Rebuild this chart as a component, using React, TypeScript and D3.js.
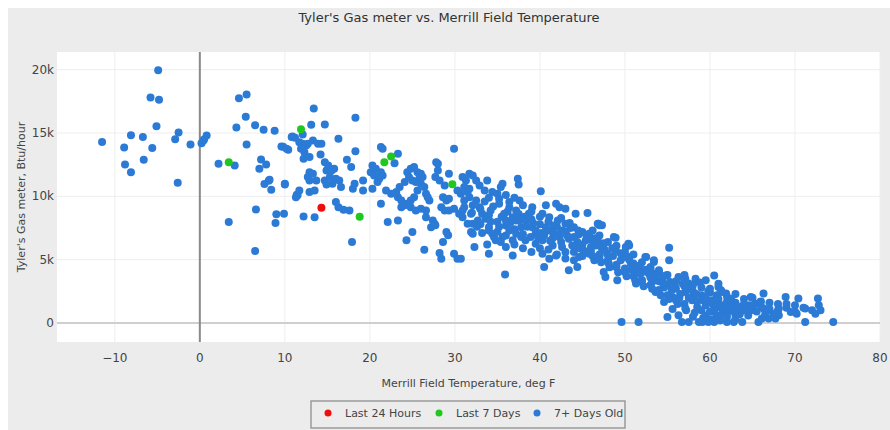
import * as d3 from "d3";

// [temperature degF, gas use Btu/hour]
const lastDay: [number, number][] = [[14.3, 9100]];

const lastWeek: [number, number][] = [
  [3.4, 12700], [11.9, 15300], [21.7, 12700], [22.5, 13150], [18.8, 8400], [29.7, 10950],
];

const older: [number, number][] = [
  [-11.5, 14300], [-8.9, 13850], [-8.1, 14830], [-8.8, 12520], [-8.1, 11910], [-6.7, 14680],
  [-6.6, 12890], [-5.6, 13810], [-5.8, 17810], [-4.8, 17630], [-4.9, 19960], [-5.1, 15540],
  [-2.9, 14520], [-2.5, 15050], [-2.6, 11080], [-1.1, 14100], [0.2, 14200], [0.5, 14500],
  [0.8, 14800], [0.4, 14400], [2.2, 12580], [4.1, 12440], [4.3, 15440], [4.6, 17750],
  [5.5, 18040], [5.4, 16280], [5.5, 14100], [6.5, 15620], [7.2, 12920], [7.0, 12180],
  [7.8, 12520], [7.5, 15260], [8.8, 15180], [7.6, 10970], [8.1, 11240], [8.4, 10530],
  [10.0, 10940], [9.8, 13920], [10.2, 13760], [10.8, 14680], [11.4, 10130], [6.6, 8970],
  [3.4, 7970], [9.0, 8580], [9.9, 8630], [8.9, 7890], [6.5, 5680], [8.2, 11310],
  [10.0, 11000], [10.9, 14730], [11.2, 14630], [9.6, 13940], [10.4, 13680], [12.1, 14890],
  [13.4, 16940], [13.1, 15650], [14.7, 15680], [11.7, 14280], [12.1, 14150], [12.5, 14020],
  [11.9, 13760], [12.3, 13490], [12.7, 14150], [13.3, 14420], [13.9, 14150], [14.3, 14150],
  [12.2, 12970], [12.9, 13100], [14.2, 13310], [14.7, 12700], [15.1, 12440], [14.9, 12050],
  [15.5, 12050], [15.3, 11520], [15.8, 12180], [16.0, 11390], [15.6, 11000], [14.7, 11260],
  [14.9, 10940], [12.9, 11910], [13.3, 11790], [12.7, 11520], [12.9, 11260], [13.7, 11260],
  [13.5, 10470], [12.9, 10340], [11.7, 10470], [11.5, 10080], [11.3, 9940], [12.2, 8420],
  [13.5, 8360], [16.0, 9550], [16.3, 9150], [16.3, 14550], [18.3, 16200], [18.3, 13570],
  [17.3, 12890], [17.8, 12310], [16.4, 11260], [16.6, 10730], [18.2, 11000], [18.0, 10600],
  [19.2, 11260], [19.2, 10470], [20.3, 10600], [16.9, 8950], [17.6, 8890], [17.9, 6390],
  [21.3, 13890], [21.5, 13760], [23.3, 13360], [22.9, 12620], [20.3, 12440], [20.7, 12180],
  [20.1, 11910], [20.5, 11640], [21.3, 11910], [21.1, 11390], [20.9, 11130], [21.5, 11640],
  [21.3, 9420], [21.9, 10470], [22.5, 10210], [23.1, 10340], [23.5, 10730], [24.1, 11130],
  [23.3, 9940], [23.7, 9680], [24.1, 9290], [23.7, 9150], [22.1, 7970], [23.3, 8100],
  [24.3, 6530], [25.0, 7180], [26.4, 5790], [24.4, 11910], [24.8, 12180], [25.2, 12310],
  [25.6, 11910], [26.0, 11790], [24.6, 11520], [25.0, 11260], [25.4, 11130], [25.8, 11390],
  [26.2, 11520], [26.0, 11000], [26.4, 10730], [26.6, 10210], [26.8, 9940], [27.0, 9680],
  [25.6, 10470], [25.2, 9940], [24.8, 9680], [24.4, 9420], [24.8, 9150], [25.4, 8890],
  [26.0, 9030], [26.6, 8890], [26.6, 8360], [27.4, 8100], [27.7, 7710], [27.2, 7570],
  [28.0, 12580], [28.0, 12050], [27.7, 11520], [28.2, 11260], [29.3, 11790], [28.8, 10860],
  [29.9, 13760], [28.6, 9940], [29.0, 9680], [29.3, 9810], [28.4, 9150], [28.8, 8890],
  [29.3, 8890], [29.9, 9030], [30.5, 8630], [30.9, 8890], [31.1, 9680], [30.7, 10210],
  [30.3, 10470], [27.6, 7840], [28.2, 5520], [28.4, 5080], [28.6, 6390], [29.0, 7180],
  [29.2, 6920], [29.9, 5470], [30.3, 5080], [31.1, 10730], [31.3, 11260], [31.5, 10340],
  [27.8, 12700], [32.1, 11650], [31.7, 9940], [32.1, 9290], [31.9, 8630], [32.1, 7840],
  [32.1, 7050], [32.3, 6000], [33.8, 11260], [34.4, 10340], [33.5, 10470], [35.6, 11000],
  [35.4, 10730], [37.4, 11390], [37.5, 10940], [40.1, 10410], [31.7, 10600], [31.1, 9150],
  [30.9, 8360], [31.5, 7840], [31.9, 7180], [30.7, 5080], [32.5, 9680], [32.9, 9150],
  [33.2, 8630], [32.7, 8100], [33.6, 8240], [34.0, 7570], [34.4, 7050], [34.8, 6530],
  [34.2, 8890], [35.2, 9420], [35.8, 8630], [36.0, 8100], [36.4, 9150], [36.8, 8360],
  [37.2, 8890], [37.6, 8100], [37.8, 7570], [38.3, 8100], [38.7, 8630], [39.1, 7570],
  [39.5, 7050], [36.4, 7310], [35.6, 6790], [36.0, 6000], [36.8, 6530], [37.2, 7050],
  [38.3, 6530], [38.9, 6790], [34.6, 6790], [34.0, 5470], [36.8, 5340], [39.5, 6260],
  [35.9, 3840], [40.5, 4420], [43.4, 4160], [44.4, 4420], [40.3, 5470], [41.1, 5080],
  [41.9, 5340], [43.0, 5600], [44.0, 4950], [44.6, 5210], [40.7, 9290], [41.9, 9420],
  [42.3, 9150], [43.0, 9030], [44.2, 8630], [45.6, 8680], [40.3, 8630], [41.1, 8360],
  [42.1, 8100], [43.0, 7840], [44.0, 7570], [45.0, 7180], [46.2, 7310], [46.8, 7840],
  [40.7, 7570], [41.5, 7180], [42.3, 6790], [43.4, 6660], [44.4, 6390], [45.4, 6530],
  [46.4, 6260], [40.3, 6530], [41.5, 6130], [42.6, 6000], [43.8, 6130], [44.8, 5870],
  [30.9, 11520], [31.7, 11790], [32.5, 11260], [32.9, 10860], [35.2, 9810], [36.4, 9550],
  [37.6, 9680], [39.1, 9150], [46.9, 7840], [47.3, 7710], [45.8, 7050], [46.2, 6530],
  [46.6, 6130], [45.8, 5470], [46.4, 4950], [47.3, 5870], [47.9, 5470], [48.7, 6790],
  [48.9, 5740], [49.5, 4950], [50.1, 6000], [50.5, 6130], [50.5, 5210], [47.5, 4020],
  [47.7, 3630], [49.1, 3370], [48.1, 4690], [55.2, 5950], [55.2, 4950], [50.7, 4690],
  [51.3, 4160], [51.8, 3900], [52.4, 5210], [53.0, 4420], [53.4, 4810], [53.6, 3900],
  [54.0, 4160], [54.4, 3500], [54.8, 3760], [53.2, 3230], [52.0, 3230], [51.3, 3110],
  [53.6, 2450], [54.6, 1660], [55.6, 2050], [55.9, 2840], [55.3, 3230], [56.3, 3630],
  [57.1, 3500], [57.5, 3110], [58.3, 3500], [59.5, 3370], [60.5, 3760], [61.3, 2580],
  [61.9, 2320], [57.1, 2450], [57.9, 1790], [58.5, 1260], [59.2, 1790], [59.5, 2050],
  [60.3, 1530], [60.9, 1790], [61.5, 1000], [57.1, 1140], [56.3, 610], [55.0, 470],
  [57.5, 80], [58.7, 80], [59.8, 80], [61.0, 350], [49.6, 80], [51.6, 80],
  [61.0, 2840], [61.4, 2450], [60.3, 1790], [60.9, 1260], [62.2, 1530], [62.6, 1000],
  [63.0, 610], [61.6, 740], [60.8, 470], [63.4, 1260], [64.0, 1000], [64.8, 2050],
  [64.6, 1400], [65.3, 1530], [65.9, 1660], [66.3, 2320], [66.3, 1140], [66.9, 1000],
  [67.5, 740], [68.1, 610], [68.9, 2050], [69.5, 870], [70.4, 1930], [70.2, 740],
  [71.2, 1140], [72.4, 740], [72.8, 1400], [71.2, 80], [74.5, 80], [63.8, 80],
  [62.8, 80], [65.7, 80], [66.9, 350], [67.7, 350], [72.7, 1930], [68.1, 1140],
  [56.7, 80], [59.1, 80], [60.5, 80], [62.0, 80], [64.9, 1000], [66.1, 350],
  [48.9, 6740], [50.4, 6260], [47.0, 7710], [52.5, 5210], [53.4, 4950],
  [33, 9000], [34, 8500], [35, 8000], [36, 7700], [37, 7400], [38, 7000], [39, 8200],
  [40, 7800], [41, 7300], [42, 7000], [33.5, 9600], [34.5, 9200], [35.5, 8400],
  [36.5, 7900], [37.5, 8600], [38.5, 7600], [39.5, 7300], [40.5, 6900], [41.5, 6700],
  [42.5, 6400], [32, 8700], [33, 7800], [34, 7300], [35, 7200], [36, 6900], [37, 6200],
  [38, 5900], [39, 5600], [40, 5900], [41, 5800], [42, 5400], [43, 5100], [44, 5600],
  [45, 5300], [46, 5700], [47, 5200], [48, 5000], [49, 4600], [50, 4300], [51, 4700],
  [52, 4000], [53, 3600], [54, 3300], [55, 3000], [56, 2700], [57, 2900], [58, 2500],
  [59, 2200], [60, 2400], [61, 1900], [62, 1700], [63, 1600], [64, 1500], [65, 1200],
  [66, 1300], [67, 1100], [68, 1000], [69, 1200], [70, 900], [56, 1800], [57, 1500],
  [58, 2000], [59, 1000], [60, 900], [61, 600], [62, 500], [63, 300], [58, 500],
  [59.5, 600], [60.5, 1200], [62, 1200], [63.5, 700], [64.5, 600], [55, 2200], [54, 2600],
  [53, 3000], [52, 3400], [51, 3700], [50, 4000], [49, 4400], [48, 4800], [47, 5400],
  [46, 6000], [45, 6200], [44, 6800], [43, 7200], [42, 7600], [41, 8000], [40, 8400],
  [39, 8800], [38, 9300], [37, 9900], [36, 10100], [35, 10200], [34, 9900], [47, 6900],
  [48, 6400], [49, 6100], [50, 5600], [51, 5400], [52, 4800], [53, 4300], [54, 4000],
  [55, 3800], [56, 3300], [57, 3800], [58, 3000], [59, 2800], [60, 2700], [61, 3100],
  [62, 2100], [63, 2300], [64, 1900], [65, 2000], [66, 1700], [67, 1600], [68, 1500],
  [69, 1500], [70, 1400], [71, 1200], [72, 1000], [73, 1000],
  [42.5, 8300], [43.5, 7900], [44.5, 7300], [45.5, 6900], [46.5, 6700], [47.5, 6300],
  [48.5, 5900], [49.5, 5500], [50.5, 5000], [51.5, 4500], [52.5, 4200], [53.5, 3800],
  [54.5, 3100], [55.5, 2600], [56.5, 2300], [57.5, 2000], [58.5, 1700], [59.5, 1400],
  [60.5, 900], [61.5, 1400], [62.5, 1900], [63.5, 1200], [64.5, 1100], [65.5, 900],
  [66.5, 700], [43.2, 6900], [44.2, 6100], [45.2, 5700], [46.2, 5300], [47.2, 4800],
  [48.2, 4400], [49.2, 4000], [50.2, 3700], [51.2, 3400], [52.2, 2900], [53.2, 2700],
  [54.2, 2200], [55.2, 1900], [56.2, 1500], [57.2, 1000], [58.2, 800], [59.2, 400],
  [60.2, 300], [61.2, 200], [62.2, 900], [38.2, 8400], [39.2, 7900], [40.2, 7100],
  [41.2, 6500], [37.2, 8100], [36.2, 8800], [35.2, 7600], [34.2, 8000], [33.2, 7100],
  [32.6, 7600], [33.8, 6200], [35.4, 6400], [37.8, 6800], [39.8, 6700], [56.8, 3100],
  [57.8, 2700], [58.8, 3200], [59.8, 2500], [60.8, 2200], [61.8, 1200], [62.8, 1100],
  [58.4, 2300], [59.6, 1800], [56.4, 2000], [55.6, 1100], [54.6, 2800], [53.8, 3400],
  [52.8, 3900], [51.8, 4300], [50.8, 4200], [49.8, 5200], [48.6, 5300], [47.6, 5800],
  [46.8, 6500], [45.6, 6600], [44.6, 7000], [43.6, 7500], [42.6, 7300], [41.6, 7700],
];

const xTicks = [-10, 0, 10, 20, 30, 40, 50, 60, 70, 80];
const yTicks = [0, 5000, 10000, 15000, 20000];
const legendItems = [
  { label: "Last 24 Hours", color: "#f20d0d" },
  { label: "Last 7 Days", color: "#1fc71f" },
  { label: "7+ Days Old", color: "#2b7bd6" },
];

const W = 882;
const H = 422;
const m = { left: 49, top: 44, right: 10, bottom: 88 };
const font = "'DejaVu Sans', Verdana, sans-serif";

export default function App() {
  const x = d3.scaleLinear().domain([-16.8, 80]).range([m.left, W - m.right]);
  const y = d3.scaleLinear().domain([-1500, 21400]).range([H - m.bottom, m.top]);
  const fmt = (v: number) => (v === 0 ? "0" : `${v / 1000}k`);
  const fmtX = (v: number) => (v < 0 ? `\u2212${-v}` : `${v}`);

  const series = [
    { pts: older, color: legendItems[2].color },
    { pts: lastWeek, color: legendItems[1].color },
    { pts: lastDay, color: legendItems[0].color },
  ];

  const legX = [320, 431, 529];

  return (
    <svg
      width={W}
      height={H}
      style={{ display: "block", position: "absolute", left: 8, top: 8, overflow: "visible" }}
      fontFamily={font}
    >
      <rect x={0} y={0} width={W} height={H} fill="#ececec" />
      <rect
        x={m.left}
        y={m.top}
        width={W - m.left - m.right}
        height={H - m.top - m.bottom}
        fill="#fff"
      />
      {xTicks
        .filter((t) => t !== 0)
        .map((t) => (
          <line key={"gx" + t} x1={x(t)} x2={x(t)} y1={m.top} y2={H - m.bottom} stroke="#eeeeee" />
        ))}
      {yTicks
        .filter((t) => t !== 0)
        .map((t) => (
          <line key={"gy" + t} x1={m.left} x2={W - m.right} y1={y(t)} y2={y(t)} stroke="#eeeeee" />
        ))}
      <line x1={m.left} x2={W - m.right} y1={y(0)} y2={y(0)} stroke="#cfcfcf" strokeWidth={2} />
      <line x1={x(0)} x2={x(0)} y1={m.top} y2={H - m.bottom} stroke="#8a8a8a" strokeWidth={2} />

      {series.map((s, i) => (
        <g key={i} fill={s.color}>
          {s.pts.map((p, j) => (
            <circle key={j} cx={x(p[0])} cy={y(p[1])} r={4} />
          ))}
        </g>
      ))}

      {xTicks.map((t) => (
        <text key={"tx" + t} x={x(t)} y={H - m.bottom + 20} textAnchor="middle" fontSize={12} fill="#444">
          {fmtX(t)}
        </text>
      ))}
      {yTicks.map((t) => (
        <text key={"ty" + t} x={m.left - 3} y={y(t) + 4} textAnchor="end" fontSize={12} fill="#444">
          {fmt(t)}
        </text>
      ))}

      <text x={441} y={14} textAnchor="middle" fontSize={13} fill="#333">
        Tyler's Gas meter vs. Merrill Field Temperature
      </text>
      <text x={(m.left + W - m.right) / 2} y={379} textAnchor="middle" fontSize={11} fill="#444">
        Merrill Field Temperature, deg F
      </text>
      <text
        transform={`translate(17,${(m.top + H - m.bottom) / 2}) rotate(-90)`}
        textAnchor="middle"
        fontSize={11}
        fill="#444"
      >
        Tyler's Gas meter, Btu/hour
      </text>

      <rect x={303} y={393} width={314} height={27} fill="#ececec" stroke="#9a9a9a" strokeWidth={1.5} />
      {legendItems.map((l, i) => (
        <g key={l.label}>
          <circle cx={legX[i]} cy={405} r={3.5} fill={l.color} />
          <text x={legX[i] + 17} y={409} fontSize={11} fill="#444">
            {l.label}
          </text>
        </g>
      ))}
    </svg>
  );
}
